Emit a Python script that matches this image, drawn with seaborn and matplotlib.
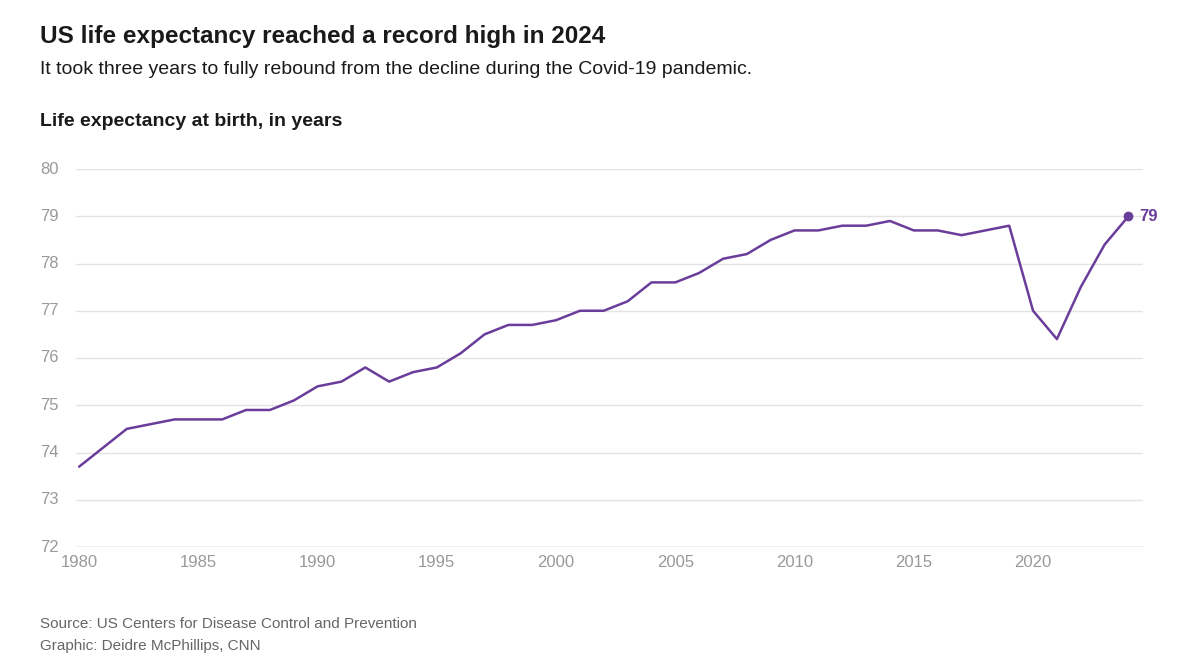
"""US life expectancy chart."""

from pathlib import Path

import matplotlib.pyplot as plt
import matplotlib.transforms as mtransforms
import pandas as pd
import seaborn as sns

PURPLE = "#6a3d9a"
GRAY = "#999999"

LIFE_EXPECTANCY = {
    1980: 73.7, 1981: 74.1, 1982: 74.5, 1983: 74.6, 1984: 74.7, 1985: 74.7,
    1986: 74.7, 1987: 74.9, 1988: 74.9, 1989: 75.1, 1990: 75.4, 1991: 75.5,
    1992: 75.8, 1993: 75.5, 1994: 75.7, 1995: 75.8, 1996: 76.1, 1997: 76.5,
    1998: 76.7, 1999: 76.7, 2000: 76.8, 2001: 77.0, 2002: 77.0, 2003: 77.2,
    2004: 77.6, 2005: 77.6, 2006: 77.8, 2007: 78.1, 2008: 78.2, 2009: 78.5,
    2010: 78.7, 2011: 78.7, 2012: 78.8, 2013: 78.8, 2014: 78.9, 2015: 78.7,
    2016: 78.7, 2017: 78.6, 2018: 78.7, 2019: 78.8, 2020: 77.0, 2021: 76.4,
    2022: 77.5, 2023: 78.4, 2024: 79.0,
}


def _plot_life_expectancy(path: Path) -> None:
    df = pd.DataFrame(
        {"year": list(LIFE_EXPECTANCY), "value": list(LIFE_EXPECTANCY.values())}
    )
    sns.set_style("white")
    plt.rcParams["font.family"] = ["Liberation Sans", "DejaVu Sans"]

    fig = plt.figure(figsize=(12, 6.72), dpi=100)
    ax = fig.add_axes([40 / 1200, 1 - 547 / 672, 1103 / 1200, 378 / 672])
    sns.lineplot(data=df, x="year", y="value", color=PURPLE, linewidth=1.8, ax=ax)
    last = df.iloc[-1]
    ax.plot(last["year"], last["value"], "o", color=PURPLE, markersize=6)
    ax.text(last["year"] + 0.45, last["value"], "79", color=PURPLE,
            fontsize=12, fontweight="bold", va="center")

    ax.set_xlim(1978.36, 2024.61)
    ax.set_ylim(72, 80)
    for spine in ax.spines.values():
        spine.set_visible(False)
    blend = mtransforms.blended_transform_factory(ax.transAxes, ax.transData)
    for y in range(72, 81):
        ax.axhline(y, xmin=36 / 1103, color="#aaaaaa" if y == 72 else "#e3e3e3",
                   linewidth=1, zorder=0)
        ax.text(0, y, str(y), transform=blend, color=GRAY,
                fontsize=12, va="center", ha="left")
    ax.set_yticks([])
    ax.set_xticks(range(1980, 2021, 5))
    ax.tick_params(axis="x", length=0, labelsize=12, labelcolor=GRAY, pad=6)
    ax.set_xlabel("")
    ax.set_ylabel("")

    fig.text(40 / 1200, 1 - 37 / 672, "US life expectancy reached a record high in 2024",
             fontsize=17.5, fontweight="bold", va="center", color="#1a1a1a")
    fig.text(40 / 1200, 1 - 69 / 672,
             "It took three years to fully rebound from the decline during the Covid-19 pandemic.",
             fontsize=14, va="center", color="#1a1a1a")
    fig.text(40 / 1200, 1 - 121 / 672, "Life expectancy at birth, in years",
             fontsize=14, fontweight="bold", va="center", color="#1a1a1a")
    fig.text(40 / 1200, 1 - 624 / 672, "Source: US Centers for Disease Control and Prevention",
             fontsize=11, va="center", color="#666666")
    fig.text(40 / 1200, 1 - 646 / 672, "Graphic: Deidre McPhillips, CNN",
             fontsize=11, va="center", color="#666666")

    plt.savefig(path, dpi=100)
    plt.close()


_plot_life_expectancy(Path("out.png"))
